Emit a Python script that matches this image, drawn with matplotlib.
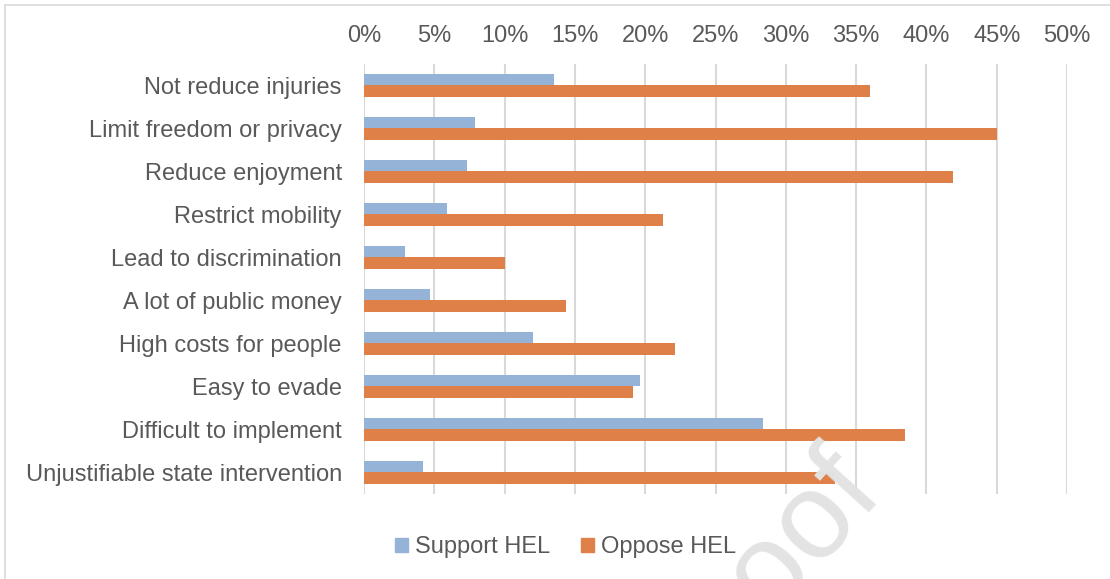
import matplotlib.pyplot as plt
from matplotlib.patches import Patch
from matplotlib.lines import Line2D
from matplotlib.ticker import PercentFormatter

# survey data: share of respondents agreeing with each concern
categories = ['Not reduce injuries', 'Limit freedom or privacy', 'Reduce enjoyment',
              'Restrict mobility', 'Lead to discrimination', 'A lot of public money',
              'High costs for people', 'Easy to evade', 'Difficult to implement',
              'Unjustifiable state intervention']
support = [13.5, 7.9, 7.3, 5.9, 2.9, 4.7, 12.0, 19.6, 28.4, 4.2]
oppose = [36.0, 45.0, 41.9, 21.3, 10.0, 14.4, 22.1, 19.1, 38.5, 33.5]
xticks = list(range(0, 51, 5))

c_support = '#95B3D7'
c_oppose = '#DE8048'
txt = '#595959'
fs = 17

plt.rcParams['font.family'] = ['Liberation Sans', 'DejaVu Sans']

fig = plt.figure(figsize=(11.1, 5.79), dpi=100)
ax = fig.add_axes([364/1110, 1 - 494/579, 703/1110, 430/579])

h = 0.26
pos = list(range(len(categories)))
ax.barh([p - h/2 for p in pos], support, height=h, color=c_support, zorder=2)
ax.barh([p + h/2 for p in pos], oppose, height=h, color=c_oppose, zorder=2)

ax.set_xlim(0, 50)
ax.set_ylim(len(categories) - 0.5, -0.5)
ax.set_xticks(xticks)
ax.xaxis.set_major_formatter(PercentFormatter(decimals=0))
ax.xaxis.tick_top()
ax.set_yticks(pos)
ax.set_yticklabels(categories)
ax.tick_params(axis='both', length=0, labelsize=fs, colors=txt)
ax.tick_params(axis='x', pad=12)
ax.tick_params(axis='y', pad=16)
ax.grid(axis='x', color='#D9D9D9', linewidth=1.5, zorder=0)
for s in ax.spines.values():
    s.set_visible(False)

handles = [Patch(color=c_support, label='Support HEL'),
           Patch(color=c_oppose, label='Oppose HEL')]
fig.legend(handles=handles, loc='center', bbox_to_anchor=(566/1110, 1 - 547/579),
           ncol=2, frameon=False, fontsize=fs, labelcolor=txt,
           handlelength=0.55, handleheight=0.55, handletextpad=0.3, columnspacing=1.3)

# outer frame (top and left edges)
fig.add_artist(Line2D([5/1110, 1], [1 - 5/579] * 2, color='#D9D9D9', lw=1.2))
fig.add_artist(Line2D([5/1110] * 2, [0, 1 - 5/579], color='#D9D9D9', lw=1.2))

# watermark
fig.text(885/1110, 1 - 495/579, 'Journal Pre-proof', fontsize=88, color='#E3E3E3',
         rotation=48, rotation_mode='anchor', ha='right', va='baseline', zorder=10)

fig.savefig('out.png', dpi=100)
